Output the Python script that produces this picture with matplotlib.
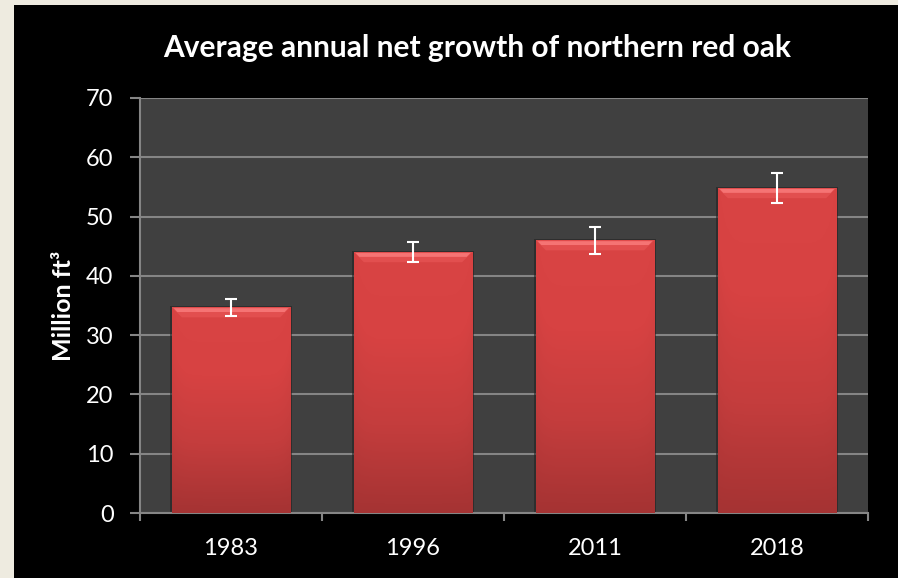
import numpy as np
import matplotlib.pyplot as plt
from matplotlib.patches import Rectangle, Polygon
from matplotlib.colors import LinearSegmentedColormap

years = ['1983', '1996', '2011', '2018']
growth = [34.7, 44.0, 46.0, 54.8]
err = [1.4, 1.7, 2.3, 2.5]

plt.rcParams['font.family'] = ['Lato', 'DejaVu Sans']

fig = plt.figure(figsize=(8.98, 5.78), dpi=100, facecolor='#EEEBE0')
# black panel behind the chart
fig.patches.append(Rectangle((14 / 898, 0), 1, 1 - 5 / 578, transform=fig.transFigure,
                             facecolor='black', edgecolor='none', zorder=-1))

ax = fig.add_axes([140 / 898, 65 / 578, 728 / 898, 415 / 578])
ax.set_facecolor('#404040')

x = np.arange(len(years))
width = 0.65
bars = ax.bar(x, growth, width=width, color='none', edgecolor='none', zorder=3)

# vertical gradient for the bars, darker at the bottom and sides
cmap = LinearSegmentedColormap.from_list('redbar', ['#A53333', '#C43D3D', '#D74242', '#D94444'])
grad_v = np.linspace(0, 1, 200)[:, None]
grad_h = 1 - 0.2 * (np.abs(np.linspace(-1, 1, 100)) ** 8)[None, :]
grad = grad_v * grad_h
for b in bars:
    x0, w, h = b.get_x(), b.get_width(), b.get_height()
    # soft shadow
    ax.add_patch(Rectangle((x0 - 0.008, 0), w + 0.016, h + 0.25, facecolor='#222222',
                           edgecolor='none', alpha=0.6, zorder=2))
    im = ax.imshow(grad, cmap=cmap, vmin=0, vmax=1, extent=(x0, x0 + w, 0, h),
                   origin='lower', aspect='auto', zorder=3)
    im.set_clip_path(b)
    # bevel on the top edge
    bh, bw = 1.7, 0.055
    ax.add_patch(Polygon([(x0, h), (x0 + w, h), (x0 + w - bw, h - bh), (x0 + bw, h - bh)],
                         closed=True, facecolor='#E24F4F', edgecolor='none', zorder=4))
    ax.add_patch(Polygon([(x0 + 0.01, h - 0.15), (x0 + w - 0.01, h - 0.15),
                          (x0 + w - 0.03, h - 0.8), (x0 + 0.03, h - 0.8)],
                         closed=True, facecolor='#F57474', edgecolor='none', zorder=4))

ax.errorbar(x, growth, yerr=err, fmt='none', ecolor='white', elinewidth=1.5,
            capsize=4.5, capthick=1.5, zorder=6)

ax.set_xlim(-0.5, len(years) - 0.5)
ax.set_ylim(0, 70)
ax.set_yticks(np.arange(0, 71, 10))
ax.yaxis.grid(True, color='#858585', linewidth=1.5, zorder=1)
ax.set_axisbelow(True)

ax.set_xticks(x)
ax.set_xticklabels(years)
ax.set_xticks(np.arange(-0.5, len(years)), minor=True)
ax.tick_params(axis='x', which='major', length=0, pad=18, labelsize=17, labelcolor='white')
ax.tick_params(axis='x', which='minor', length=6, width=1.5, color='#858585')
ax.tick_params(axis='y', length=7, width=1.5, color='#858585', pad=12, labelsize=17,
               labelcolor='white')

for s in ['top', 'right']:
    ax.spines[s].set_visible(False)
for s in ['left', 'bottom']:
    ax.spines[s].set_color('#858585')
    ax.spines[s].set_linewidth(1.5)

ax.set_ylabel('Million ft³', color='white', fontsize=18, fontweight='bold', labelpad=8)
fig.text(0.531, 0.917, 'Average annual net growth of northern red oak', color='white',
         fontsize=21.5, fontweight='bold', ha='center', va='center')

fig.savefig('out.png', dpi=100, facecolor=fig.get_facecolor())
